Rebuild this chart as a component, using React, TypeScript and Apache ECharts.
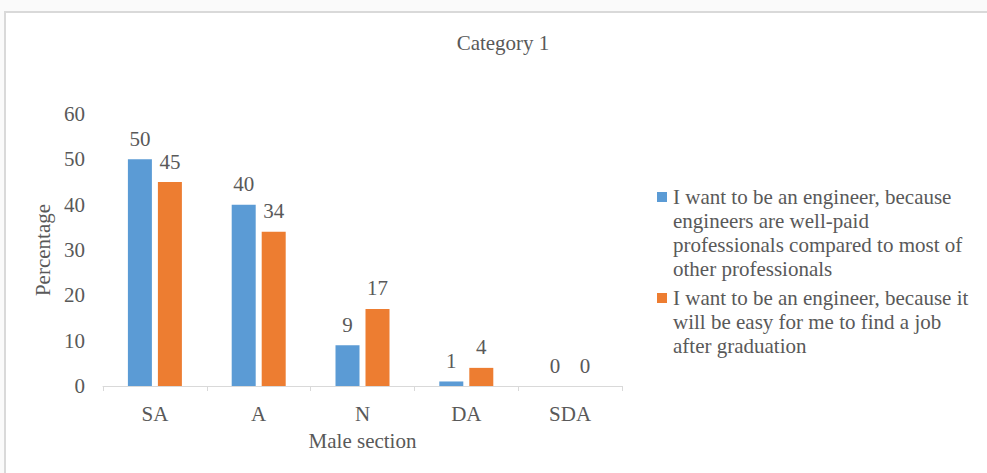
import React, { useEffect, useRef } from "react";
import * as echarts from "echarts";

// Survey responses (percent) per agreement level
const categories = ["SA", "A", "N", "DA", "SDA"];
const wellPaidValues = [50, 40, 9, 1, 0];
const easyJobValues = [45, 34, 17, 4, 0];

const seriesNames = [
  "I want to be an engineer, because engineers are well-paid professionals compared to most of other professionals",
  "I want to be an engineer, because it will be easy for me to find a job after graduation",
];
// Wrapped legend lines, one list per series
const legendLines = [
  ["I want to be an engineer, because", "engineers are well-paid", "professionals compared to most of", "other professionals"],
  ["I want to be an engineer, because it", "will be easy for me to find a job", "after graduation"],
];

const yMin = 0;
const yMax = 60;
const yInterval = 10;

const titleText = "Category 1";
const xAxisName = "Male section";
const yAxisName = "Percentage";

const colors = ["#5B9BD5", "#ED7D31"];
const textColor = "#595959";
const fontFamily = '"Liberation Serif", "Times New Roman", serif';
const fontSize = 21;

export default function App() {
  const ref = useRef<HTMLDivElement>(null);

  useEffect(() => {
    if (!ref.current) return;
    const chart = echarts.init(ref.current, null, { renderer: "svg" });

    const legendTops = [185, 286];
    const legendGraphics = legendLines.map((lines, i) => ({
      type: "group",
      children: [
        {
          type: "rect",
          shape: { x: 657, y: legendTops[i] + 7, width: 10, height: 10 },
          style: { fill: colors[i] },
        },
        {
          type: "text",
          x: 673,
          y: legendTops[i],
          style: {
            text: lines.join("\n"),
            fontFamily,
            fontSize,
            lineHeight: 24,
            fill: textColor,
            verticalAlign: "top",
            align: "left",
          },
        },
      ],
    }));

    const makeSeries = (name: string, data: number[], color: string) => ({
      name,
      type: "bar",
      data,
      barWidth: 24,
      barGap: "25%",
      itemStyle: { color },
      label: {
        show: true,
        position: "top",
        distance: 10,
        color: textColor,
        fontFamily,
        fontSize,
      },
    });

    chart.setOption({
      animation: false,
      backgroundColor: "transparent",
      title: {
        text: titleText,
        left: 498,
        textAlign: "center",
        top: 27,
        textStyle: { color: textColor, fontFamily, fontSize, fontWeight: "normal" },
      },
      grid: { left: 103, right: 365, top: 114, bottom: 87, containLabel: false },
      xAxis: {
        type: "category",
        data: categories,
        boundaryGap: true,
        name: xAxisName,
        nameLocation: "middle",
        nameGap: 44,
        nameTextStyle: { color: textColor, fontFamily, fontSize },
        axisLine: { show: true, lineStyle: { color: "#D9D9D9", width: 1 } },
        axisTick: { show: true, length: 5, lineStyle: { color: "#D9D9D9" } },
        axisLabel: { color: textColor, fontFamily, fontSize, margin: 17 },
        splitLine: { show: false },
      },
      yAxis: {
        type: "value",
        min: yMin,
        max: yMax,
        interval: yInterval,
        name: yAxisName,
        nameLocation: "middle",
        nameRotate: 90,
        nameGap: 48,
        nameTextStyle: { color: textColor, fontFamily, fontSize },
        axisLine: { show: false },
        axisTick: { show: false },
        splitLine: { show: false },
        axisLabel: { color: textColor, fontFamily, fontSize, margin: 18 },
      },
      graphic: legendGraphics,
      series: [
        makeSeries(seriesNames[0], wellPaidValues, colors[0]),
        makeSeries(seriesNames[1], easyJobValues, colors[1]),
      ],
    });

    return () => chart.dispose();
  }, []);

  return (
    <div
      style={{
        position: "fixed",
        left: 0,
        top: 0,
        width: 987,
        height: 473,
        overflow: "hidden",
        background: "#FAFAFA",
      }}
    >
      <div
        style={{
          position: "absolute",
          left: 4,
          top: 11,
          width: 1100,
          height: 600,
          border: "2px solid #D9D9D9",
          background: "#FFFFFF",
        }}
      />
      <div ref={ref} style={{ position: "absolute", left: 0, top: 0, width: 987, height: 473 }} />
    </div>
  );
}
